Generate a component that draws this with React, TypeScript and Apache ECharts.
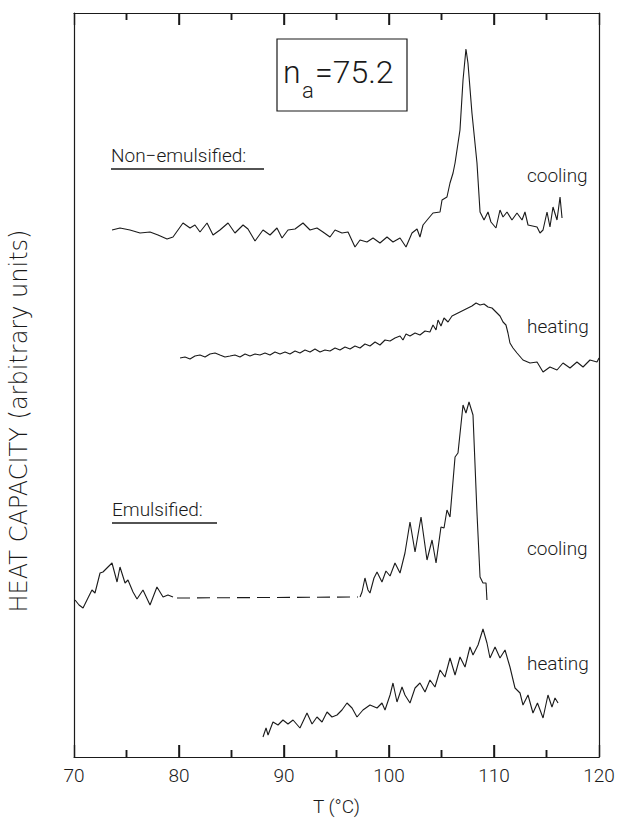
import React, { useEffect, useRef } from "react";
import * as echarts from "echarts";

// Temperature axis (°C)
const T_MIN = 70;
const T_MAX = 120;
const T_STEP = 10;
const HC_MAX = 744; // heat capacity, arbitrary units

// Temperatures that carry a tick mark on the top and bottom frame edges
const frameTicks = [75, 80, 85, 90, 95, 100, 105, 110, 115];
const TICK_MAJOR = 12; // tick length in heat-capacity units
const TICK_MINOR = 7;

// Non-emulsified, cooling scan: [T (°C), heat capacity]
const nonEmulCooling: number[][] = [
  [73.62, 527], [74.38, 529], [75.33, 527], [76.29, 524], [77.24, 525], [78.0, 522],
  [78.86, 518], [79.43, 520], [80.38, 534], [81.05, 529], [81.52, 532], [82.0, 525],
  [82.67, 534], [83.24, 522], [83.9, 527], [84.67, 534], [85.33, 524], [86.1, 532],
  [86.57, 528], [87.24, 516], [88.0, 527], [88.67, 522], [89.33, 529], [89.81, 519],
  [90.38, 527], [91.05, 528], [91.81, 534], [92.48, 527], [93.14, 529], [93.71, 525],
  [94.38, 520], [94.86, 527], [95.52, 524], [96.1, 525], [96.76, 510], [97.24, 517],
  [97.9, 515], [98.48, 519], [99.14, 514], [99.81, 520], [100.38, 515], [101.05, 519],
  [101.62, 510], [102.19, 524], [102.67, 528], [102.95, 520], [103.24, 532], [103.71, 538],
  [104.19, 544], [104.86, 545], [105.05, 557], [105.52, 560], [105.81, 574], [106.1, 584],
  [106.29, 594], [106.76, 627], [107.05, 677], [107.33, 708], [107.52, 694], [107.9, 644],
  [108.38, 594], [108.67, 545], [109.05, 537], [109.43, 545], [109.71, 535], [110.19, 529],
  [110.57, 547], [110.86, 540], [111.24, 545], [111.71, 537], [112.19, 544], [112.67, 537],
  [112.95, 545], [113.24, 532], [114.1, 530], [114.38, 524], [114.67, 527], [115.05, 545],
  [115.33, 530], [115.62, 550], [116.0, 537], [116.29, 560], [116.48, 539],
];

// Non-emulsified, heating scan
const nonEmulHeating: number[][] = [
  [80.1, 399], [80.57, 400], [81.05, 398], [81.52, 401], [82.0, 402], [82.48, 400],
  [82.95, 403], [83.43, 404], [83.9, 402], [84.38, 400], [84.86, 401], [85.33, 402],
  [85.81, 400], [86.29, 403], [86.76, 401], [87.24, 403], [87.71, 402], [88.19, 404],
  [88.67, 402], [89.14, 405], [89.62, 403], [90.1, 405], [90.57, 403], [91.05, 406],
  [91.52, 404], [92.0, 407], [92.48, 405], [92.95, 408], [93.43, 405], [93.9, 407],
  [94.38, 406], [94.86, 409], [95.33, 407], [95.81, 410], [96.29, 408], [96.76, 411],
  [97.24, 409], [97.71, 413], [98.19, 411], [98.67, 415], [99.14, 412], [99.62, 417],
  [100.1, 416], [100.57, 419], [101.05, 421], [101.33, 417], [101.62, 423], [102.0, 421],
  [102.48, 424], [102.95, 422], [103.43, 426], [103.9, 425], [104.19, 432], [104.48, 427],
  [104.67, 437], [104.95, 431], [105.24, 439], [105.62, 435], [106.0, 441], [106.38, 443],
  [106.76, 445], [107.14, 447], [107.52, 449], [107.9, 451], [108.29, 454], [108.67, 452],
  [109.05, 453], [109.43, 450], [109.81, 449], [110.19, 445], [110.57, 441], [110.86, 435],
  [111.14, 432], [111.33, 424], [111.52, 414], [111.81, 409], [112.19, 404], [112.76, 397],
  [113.43, 394], [114.1, 395], [114.67, 385], [115.33, 390], [116.0, 387], [116.57, 394],
  [117.24, 389], [117.9, 395], [118.48, 390], [119.14, 397], [119.81, 395], [120.0, 399],
];

// Emulsified, cooling scan: low-temperature part, gap (dashed), high-temperature part
const emulCoolingLow: number[][] = [
  [70.1, 157], [70.48, 152], [70.86, 149], [71.33, 159], [71.71, 167], [72.0, 164],
  [72.48, 184], [72.76, 185], [73.14, 189], [73.62, 194], [74.1, 175], [74.38, 190],
  [74.86, 174], [75.14, 177], [75.62, 165], [76.0, 158], [76.57, 167], [77.24, 152],
  [77.9, 170], [78.48, 160], [78.95, 162], [79.43, 160],
];
const emulCoolingGap: number[][] = [[79.81, 159], [97.05, 160]];
const emulCoolingHigh: number[][] = [
  [97.24, 160], [97.43, 165], [97.71, 179], [98.0, 167], [98.19, 164], [98.57, 179],
  [98.86, 185], [99.33, 175], [99.71, 186], [100.1, 181], [100.57, 194], [101.05, 184],
  [101.52, 204], [102.0, 235], [102.48, 205], [103.05, 240], [103.62, 197], [104.1, 217],
  [104.48, 194], [104.95, 230], [105.24, 229], [105.52, 247], [105.81, 240], [106.29, 300],
  [106.57, 304], [107.05, 352], [107.33, 344], [107.62, 355], [108.0, 342], [108.38, 244],
  [108.67, 180], [108.95, 174], [109.24, 174], [109.33, 157],
];

// Emulsified, heating scan
const emulHeating: number[][] = [
  [88.0, 20], [88.29, 29], [88.48, 22], [88.95, 35], [89.43, 32], [89.9, 37],
  [90.38, 33], [90.86, 37], [91.52, 29], [92.19, 44], [92.67, 33], [93.14, 40],
  [93.62, 35], [94.1, 45], [94.57, 40], [95.05, 42], [95.52, 47], [96.0, 54],
  [96.48, 49], [96.95, 40], [97.52, 47], [98.19, 52], [98.86, 49], [99.33, 54],
  [99.62, 47], [100.1, 62], [100.38, 74], [100.76, 55], [101.24, 70], [101.52, 62],
  [102.0, 54], [102.48, 69], [102.95, 74], [103.43, 65], [103.9, 77], [104.38, 70],
  [104.86, 87], [105.33, 80], [105.81, 99], [106.29, 82], [106.76, 100], [107.24, 90],
  [107.71, 110], [108.0, 102], [108.48, 112], [108.95, 128], [109.33, 114], [109.62, 99],
  [110.1, 110], [110.57, 99], [111.05, 107], [111.52, 90], [112.0, 69], [112.48, 64],
  [112.76, 52], [113.24, 62], [113.71, 44], [114.14, 54], [114.67, 39], [115.14, 62],
  [115.52, 50], [115.81, 59], [116.1, 54],
];

const FONT = "Roboto, 'Liberation Sans', sans-serif";
const INK = "#1a1a1a";

const traceLine = (data: number[][], dashed = false, width = 1.1) => ({
  type: "line",
  data,
  xAxisIndex: 0,
  yAxisIndex: 0,
  showSymbol: false,
  clip: false,
  z: 5,
  lineStyle: { color: INK, width, type: dashed ? [13, 7] : "solid" },
});

// Short inward segments on the bottom and top frame edges at each tick temperature
const tickSegments = frameTicks.flatMap((t) => {
  const len = t % T_STEP === 0 ? TICK_MAJOR : TICK_MINOR;
  return [
    traceLine([[t, 0], [t, len]], false, 1.6),
    traceLine([[t, HC_MAX], [t, HC_MAX - len]], false, 1.6),
  ];
});

const label = (text: string, x: number, y: number, size = 19) => ({
  type: "text",
  x,
  y,
  style: {
    text,
    fill: INK,
    font: `300 ${size}px ${FONT}`,
    textAlign: "left",
    textVerticalAlign: "middle",
  },
});

const underline = (x1: number, x2: number, y: number) => ({
  type: "line",
  shape: { x1, y1: y, x2, y2: y },
  style: { stroke: INK, lineWidth: 1.3 },
});

// Temperature axis: frame line, inward ticks and labels
const temperatureAxis = (position: "bottom" | "top", withLabels: boolean) => ({
  type: "value",
  position,
  min: T_MIN,
  max: T_MAX,
  interval: T_STEP,
  splitLine: { show: false },
  axisLine: { show: true, onZero: false, lineStyle: { color: INK, width: 1.2 } },
  axisTick: { show: true, inside: true, length: TICK_MAJOR, lineStyle: { color: INK, width: 1.4 } },
  minorTick: { show: true, splitNumber: 2, length: TICK_MINOR, lineStyle: { color: INK, width: 1.4 } },
  axisLabel: withLabels
    ? { show: true, color: INK, fontFamily: FONT, fontWeight: 300, fontSize: 19, margin: 9 }
    : { show: false },
  ...(withLabels
    ? {
        name: "T (°C)",
        nameLocation: "middle",
        nameGap: 40,
        nameTextStyle: { color: INK, fontFamily: FONT, fontWeight: 300, fontSize: 19 },
      }
    : {}),
});

// Heat-capacity axis: frame line only (arbitrary units)
const capacityAxis = (position: "left" | "right") => ({
  type: "value",
  position,
  min: 0,
  max: HC_MAX,
  axisLine: { show: true, onZero: false, lineStyle: { color: INK, width: 1.2 } },
  axisTick: { show: false },
  axisLabel: { show: false },
  splitLine: { show: false },
});

export default function App() {
  const ref = useRef<HTMLDivElement>(null);

  useEffect(() => {
    if (!ref.current) return;
    const chart = echarts.init(ref.current, null, { renderer: "svg" });

    chart.setOption({
      animation: false,
      grid: { left: 74, right: 22, top: 13, bottom: 66 },
      xAxis: [temperatureAxis("bottom", true), temperatureAxis("top", false)],
      yAxis: [capacityAxis("left"), capacityAxis("right")],
      series: [
        traceLine(nonEmulCooling),
        traceLine(nonEmulHeating),
        traceLine(emulCoolingLow),
        traceLine(emulCoolingGap, true),
        traceLine(emulCoolingHigh),
        traceLine(emulHeating),
        ...tickSegments,
      ],
      graphic: [
        {
          type: "text",
          x: 19,
          y: 421,
          rotation: Math.PI / 2,
          style: {
            text: "HEAT CAPACITY (arbitrary units)",
            fill: INK,
            font: `200 24px 'DejaVu Sans', ${FONT}`,
            textAlign: "center",
            textVerticalAlign: "middle",
          },
        },
        {
          type: "rect",
          shape: { x: 277, y: 39, width: 130, height: 72 },
          style: { fill: "none", stroke: INK, lineWidth: 1.2 },
        },
        label("n", 283, 72, 32),
        label("a", 302, 90, 22),
        label("=75.2", 315, 72, 32),
        label("Non\u2212emulsified:", 111, 155),
        underline(111, 264, 169),
        label("Emulsified:", 112, 509),
        underline(112, 217, 523),
        label("cooling", 527, 175),
        label("heating", 527, 326),
        label("cooling", 527, 548),
        label("heating", 527, 663),
      ],
    });

    return () => chart.dispose();
  }, []);

  return (
    <div
      ref={ref}
      style={{ position: "fixed", left: 0, top: 0, width: 621, height: 823, background: "#fff" }}
    />
  );
}
